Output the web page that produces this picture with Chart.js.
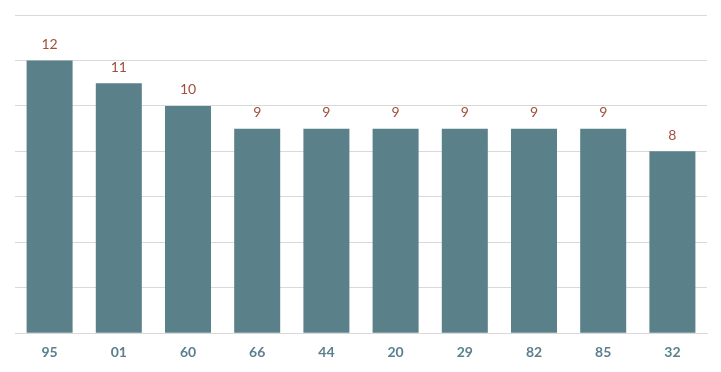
<!DOCTYPE html>
<html lang="en">
<head>
    <meta charset="UTF-8">
    <title>Bar chart</title>
    <script src="https://cdn.jsdelivr.net/npm/chart.js"></script>
    <style>
        body {
            margin: 0;
            background: #ffffff;
        }
        canvas {
            display: block;
        }
    </style>
</head>
<body>
    <canvas id="barChart" width="721" height="372"></canvas>

    <script>
        const categories = ['95', '01', '60', '66', '44', '20', '29', '82', '85', '32'];
        const counts = [12, 11, 10, 9, 9, 9, 9, 9, 9, 8];

        // draws the value above each bar
        const valueLabels = {
            id: 'valueLabels',
            afterDatasetsDraw(chart) {
                const ctx = chart.ctx;
                const meta = chart.getDatasetMeta(0);
                ctx.save();
                ctx.font = '14px Lato, sans-serif';
                ctx.fillStyle = '#a0503c';
                ctx.textAlign = 'center';
                ctx.textBaseline = 'middle';
                meta.data.forEach((bar, i) => {
                    ctx.fillText(String(counts[i]), bar.x, bar.y - 16);
                });
                ctx.restore();
            }
        };

        new Chart(document.getElementById('barChart'), {
            type: 'bar',
            data: {
                labels: categories,
                datasets: [{
                    data: counts,
                    backgroundColor: '#5a818a',
                    categoryPercentage: 1,
                    barPercentage: 0.665
                }]
            },
            options: {
                responsive: false,
                animation: false,
                layout: {
                    padding: { left: 15, right: 14, top: 15, bottom: 0 }
                },
                plugins: {
                    legend: { display: false },
                    tooltip: { enabled: false }
                },
                scales: {
                    x: {
                        grid: { display: false, drawTicks: false },
                        border: { display: true, color: '#d9d9d9', width: 1 },
                        ticks: {
                            padding: 11,
                            color: '#5a7f8f',
                            font: { family: 'Lato, sans-serif', size: 14, weight: 'bold' }
                        }
                    },
                    y: {
                        min: 0,
                        max: 14,
                        ticks: { display: false, stepSize: 2 },
                        grid: { color: '#d9d9d9', drawTicks: false },
                        border: { display: false }
                    }
                }
            },
            plugins: [valueLabels]
        });
    </script>
</body>
</html>
